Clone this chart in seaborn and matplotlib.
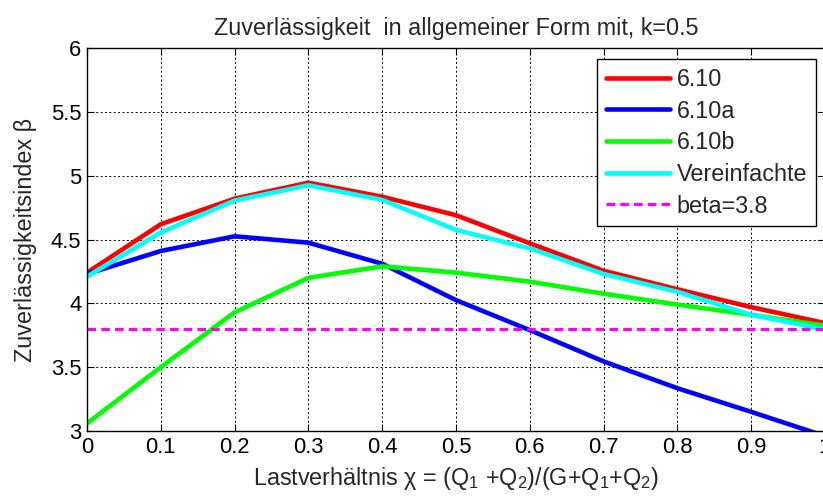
import matplotlib
matplotlib.use("Agg")
import matplotlib.pyplot as plt
import numpy as np
import pandas as pd
import seaborn as sns

# Load ratio chi and reliability indices per combination rule
chi = [0.0, 0.1, 0.2, 0.3, 0.4, 0.5, 0.6, 0.7, 0.8, 0.9, 1.0]
beta_610 = [4.24, 4.62, 4.82, 4.945, 4.835, 4.69, 4.47, 4.255, 4.11, 3.97, 3.845]
beta_610a = [4.23, 4.41, 4.525, 4.475, 4.31, 4.025, 3.79, 3.545, 3.335, 3.15, 2.96]
beta_610b = [3.06, 3.5, 3.93, 4.2, 4.29, 4.24, 4.17, 4.075, 3.99, 3.91, 3.825]
beta_vereinf = [4.21, 4.555, 4.805, 4.925, 4.81, 4.575, 4.43, 4.23, 4.09, 3.91, 3.795]
beta_target = 3.8

series_names = ["6.10", "6.10a", "6.10b", "Vereinfachte"]
series_values = [beta_610, beta_610a, beta_610b, beta_vereinf]
series_colors = ["#ff0000", "#0000ff", "#00ff00", "#00ffff"]

x_ticks = [0, 0.1, 0.2, 0.3, 0.4, 0.5, 0.6, 0.7, 0.8, 0.9, 1]
x_ticklabels = ["0", "0.1", "0.2", "0.3", "0.4", "0.5", "0.6", "0.7", "0.8", "0.9", "1"]
y_ticks = [3, 3.5, 4, 4.5, 5, 5.5, 6]
y_ticklabels = ["3", "3.5", "4", "4.5", "5", "5.5", "6"]

df = pd.DataFrame({
    "chi": np.tile(chi, len(series_names)),
    "beta": np.concatenate(series_values),
    "Regel": np.repeat(series_names, len(chi)),
})

sns.set_style("ticks")
plt.rcParams["font.family"] = ["Liberation Sans", "DejaVu Sans"]
plt.rcParams["mathtext.fontset"] = "custom"
plt.rcParams["mathtext.rm"] = "Liberation Sans"
plt.rcParams["mathtext.it"] = "Liberation Sans"

LW = 3.3
DASH = (0, (2.7, 1.6))

fig = plt.figure(figsize=(8.23, 4.97), dpi=100)
ax = fig.add_axes([87 / 823, 66 / 497, 738 / 823, 383 / 497])

sns.lineplot(data=df, x="chi", y="beta", hue="Regel", hue_order=series_names,
             palette=series_colors, linewidth=LW, ax=ax, legend=False)
ax.axhline(beta_target, color="#ff00ff", linestyle=DASH, linewidth=2.3)

ax.set_xlim(0, 1)
ax.set_ylim(3, 6)
ax.set_xticks(x_ticks)
ax.set_xticklabels(x_ticklabels)
ax.set_yticks(y_ticks)
ax.set_yticklabels(y_ticklabels)
ax.tick_params(direction="in", length=5, width=0.8, labelsize=15.8, pad=4,
               top=True, right=True, colors="black")
for sp in ax.spines.values():
    sp.set_visible(True)
    sp.set_color("black")
    sp.set_linewidth(1.0)
ax.grid(True, color="black", linestyle=(0, (2, 2.5)), linewidth=0.7)

ax.set_title("Zuverlässigkeit  in allgemeiner Form mit, k=0.5", fontsize=16.8, pad=9)
ax.set_xlabel("Lastverhältnis χ = (Q$_{1}$ +Q$_{2}$)/(G+Q$_{1}$+Q$_{2}$)", fontsize=16.8, labelpad=5)
ax.set_ylabel("Zuverlässigkeitsindex β", fontsize=16.8, labelpad=10)

# Legend built from the same styles as the drawn lines
handles = [plt.Line2D([], [], color=c, linewidth=LW) for c in series_colors]
handles.append(plt.Line2D([], [], color="#ff00ff", linestyle=DASH, linewidth=2.3))
labels = series_names + ["beta=3.8"]
leg = ax.legend(handles, labels, loc="upper right", bbox_to_anchor=(0.988, 0.971),
                borderaxespad=0, fontsize=16.8, handlelength=2.75, handletextpad=0.3,
                labelspacing=0.37, borderpad=0.38, fancybox=False, framealpha=1,
                edgecolor="black")
leg.get_frame().set_linewidth(1.0)

fig.savefig("out.png", dpi=100, facecolor="white")
